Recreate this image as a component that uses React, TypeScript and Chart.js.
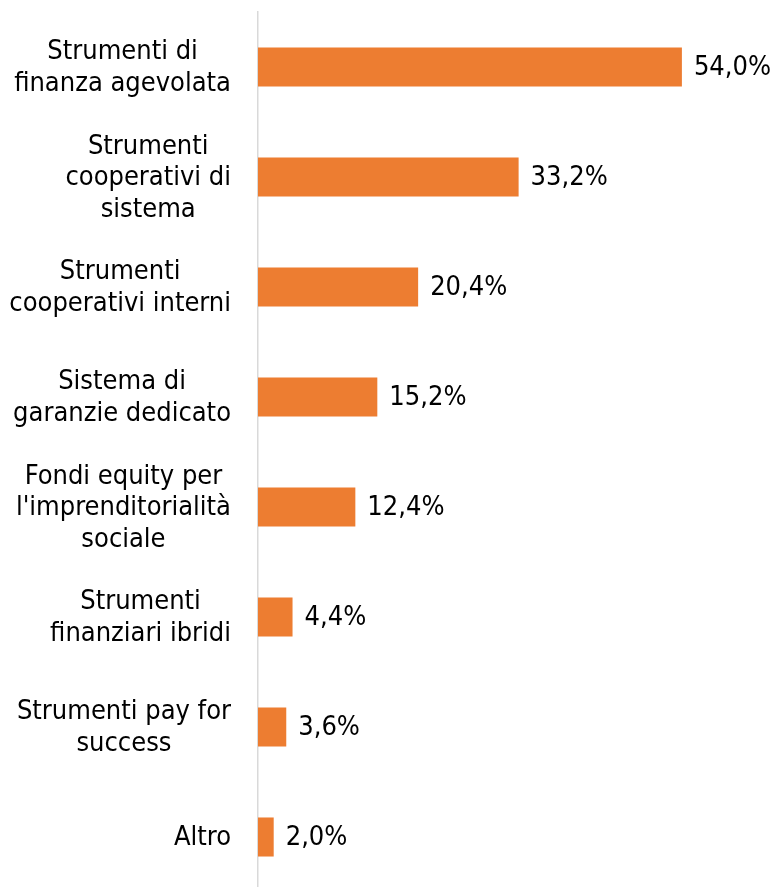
import React, { useEffect, useRef } from "react";
import { Chart, registerables } from "chart.js";

Chart.register(...registerables);

const categories: string[][] = [
  ["Strumenti di", "finanza agevolata"],
  ["Strumenti", "cooperativi di", "sistema"],
  ["Strumenti", "cooperativi interni"],
  ["Sistema di", "garanzie dedicato"],
  ["Fondi equity per", "l'imprenditorialità", "sociale"],
  ["Strumenti", "finanziari ibridi"],
  ["Strumenti pay for", "success"],
  ["Altro"],
];

const values: number[] = [54.0, 33.2, 20.4, 15.2, 12.4, 4.4, 3.6, 2.0];

const FONT = "27px 'DejaVu Sans Condensed', 'DejaVu Sans', sans-serif";
const TEXT_COLOR = "#000000";
const BAR_COLOR = "#ED7D31";

const labelsPlugin = {
  id: "customLabels",
  afterDatasetsDraw(chart: any) {
    const ctx = chart.ctx as CanvasRenderingContext2D;
    const yScale = chart.scales.y;
    const area = chart.chartArea;
    ctx.save();
    ctx.font = FONT;
    ctx.fillStyle = TEXT_COLOR;
    const lineH = 31.5;
    categories.forEach((lines, i) => {
      const cy = yScale.getPixelForValue(i);
      const maxW = Math.max(...lines.map((l) => ctx.measureText(l).width));
      const right = area.left - 27;
      const cx = right - maxW / 2;
      ctx.textAlign = "center";
      ctx.textBaseline = "middle";
      const startY = cy + 1 - ((lines.length - 1) * lineH) / 2;
      lines.forEach((l, j) => {
        ctx.fillText(l, cx, startY + j * lineH);
      });
    });
    const meta = chart.getDatasetMeta(0);
    meta.data.forEach((bar: any, i: number) => {
      const txt = values[i].toFixed(1).replace(".", ",") + "%";
      ctx.textAlign = "left";
      ctx.textBaseline = "middle";
      ctx.fillText(txt, bar.x + 12, bar.y + 1);
    });
    ctx.restore();
  },
};

export default function App() {
  const ref = useRef<HTMLCanvasElement | null>(null);
  useEffect(() => {
    if (!ref.current) return;
    const chart = new Chart(ref.current, {
      type: "bar",
      data: {
        labels: categories.map((c) => c.join(" ")),
        datasets: [
          {
            data: values,
            backgroundColor: BAR_COLOR,
            borderWidth: 0,
            barPercentage: 0.355,
            categoryPercentage: 1,
          },
        ],
      },
      options: {
        indexAxis: "y",
        animation: false,
        responsive: true,
        maintainAspectRatio: false,
        layout: { padding: { top: 4, right: 49, left: 0, bottom: 0 } },
        plugins: {
          legend: { display: false },
          tooltip: { enabled: false },
        },
        scales: {
          x: {
            display: false,
            min: 0,
            max: 60,
          },
          y: {
            grid: { display: false, drawTicks: false },
            border: { display: true, color: "#D9D9D9", width: 1.5 },
            ticks: { display: false },
            afterFit: (scale: any) => {
              scale.width = 250;
            },
          },
        },
      },
      plugins: [labelsPlugin],
    });
    return () => chart.destroy();
  }, []);
  return (
    <div style={{ width: 770, height: 884, position: "relative" }}>
      <canvas ref={ref} />
    </div>
  );
}
